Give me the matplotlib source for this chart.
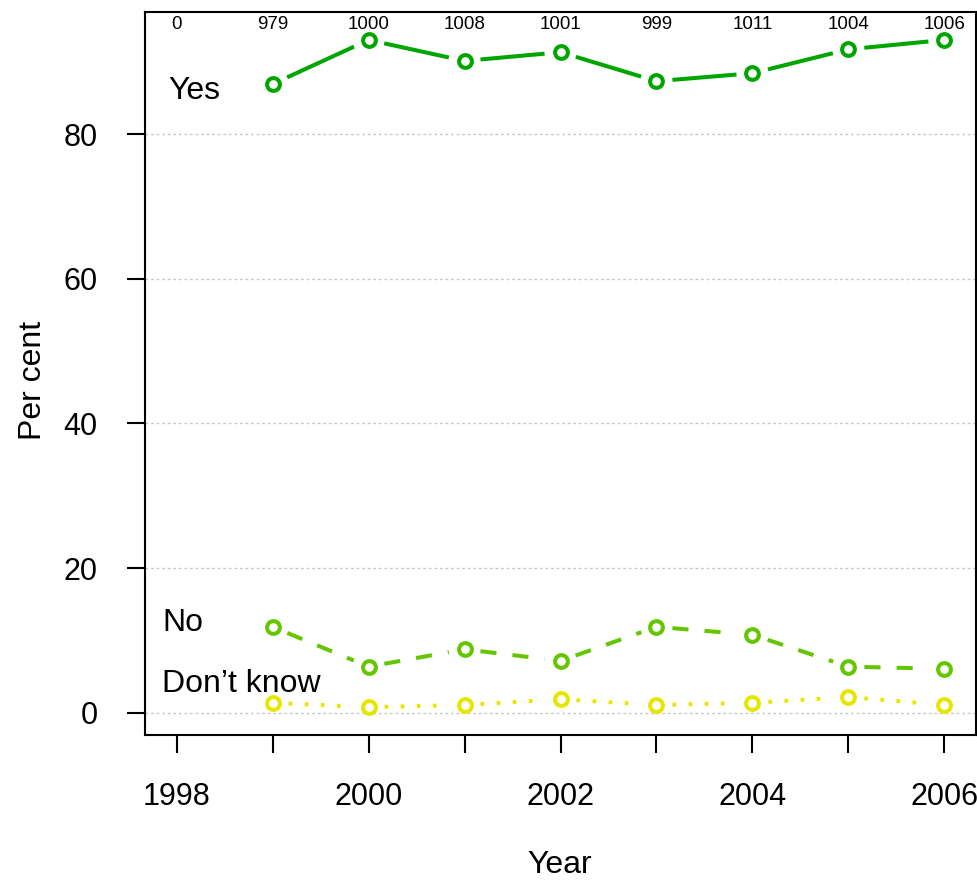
import numpy as np
import matplotlib.pyplot as plt

plt.rcParams['font.family'] = ['Liberation Sans', 'DejaVu Sans']

# Survey years and answer shares (per cent)
years = [1999, 2000, 2001, 2002, 2003, 2004, 2005, 2006]
yes = [86.9, 93.0, 90.1, 91.3, 87.3, 88.4, 91.7, 93.0]
no = [11.9, 6.4, 8.8, 7.2, 11.9, 10.8, 6.4, 6.1]
dont_know = [1.4, 0.8, 1.1, 1.9, 1.1, 1.4, 2.2, 1.1]

# Number of respondents shown along the top
count_years = [1998, 1999, 2000, 2001, 2002, 2003, 2004, 2005, 2006]
counts = [0, 979, 1000, 1008, 1001, 999, 1011, 1004, 1006]

series = [
    ("Yes", yes, '#00A600', '-', (1997.91, 86.0)),
    ("No", no, '#63C600', (0, (4, 4)), (1997.85, 12.4)),
    ("Don\u2019t know", dont_know, '#E6E600', (0, (0.9, 3.1)), (1997.85, 4.0)),
]

fig = plt.figure(figsize=(9.77, 8.82), dpi=100)
ax = fig.add_axes([0.1484, 0.1667, 0.8506, 0.8197])
ax.set_xlim(1997.67, 2006.33)
ax.set_ylim(-3.04, 96.86)

gap = 16  # pixels between point centre and line end (R type="b")
for name, vals, col, ls, pos in series:
    pts = ax.transData.transform(np.column_stack([years, vals]))
    for p0, p1 in zip(pts[:-1], pts[1:]):
        d = p1 - p0
        u = d / np.hypot(*d)
        seg = ax.transData.inverted().transform([p0 + u * gap, p1 - u * gap])
        ax.plot(seg[:, 0], seg[:, 1], color=col, lw=2.9, linestyle=ls,
                solid_capstyle='butt', dash_capstyle='butt', zorder=2)
    ax.plot(years, vals, 'o', mfc='white', mec=col, ms=9.2, mew=2.9, zorder=5)
    ax.text(pos[0], pos[1], name, fontsize=23, ha='left', va='center')

for yv in [0, 20, 40, 60, 80]:
    ax.axhline(yv, color='#c8c8c8', lw=1, linestyle=(0, (2, 2)), zorder=1)

for yr, c in zip(count_years, counts):
    ax.text(yr, 95.1, str(c), fontsize=13.5, ha='center', va='center')

ax.set_xticks(count_years)
ax.set_xticklabels([str(y) if y % 2 == 0 else '' for y in count_years])
ax.set_yticks([0, 20, 40, 60, 80])
ax.tick_params(axis='both', direction='out', length=13, width=1.5,
               labelsize=22, pad=21)

for sp in ax.spines.values():
    sp.set_linewidth(1.5)

fig.text(33 / 977, 1 - 380 / 882, 'Per cent', rotation=90, fontsize=23,
         ha='center', va='center')
fig.text(560 / 977, 1 - 865 / 882, 'Year', fontsize=23, ha='center', va='center')

fig.savefig('out.png', dpi=100)
